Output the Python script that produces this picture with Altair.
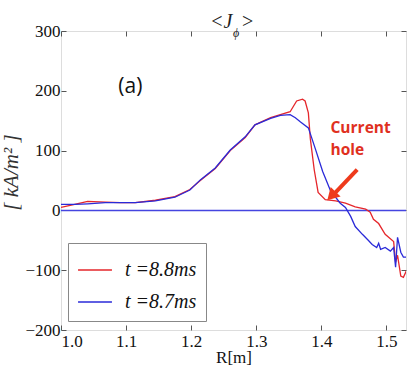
import altair as alt
import pandas as pd

# ---- data ----
r_red = [1.000, 1.021, 1.041, 1.068, 1.091, 1.114, 1.145, 1.175, 1.198, 1.214, 1.237, 1.260,
         1.283, 1.298, 1.322, 1.337, 1.352, 1.362, 1.371, 1.375, 1.380, 1.383, 1.389, 1.395,
         1.406, 1.422, 1.437, 1.452, 1.468, 1.475, 1.480, 1.488, 1.498, 1.511, 1.514, 1.517,
         1.522, 1.526, 1.531]
j_red = [5, 10, 15, 14, 13, 13, 17, 23, 35, 50, 70, 100,
         122, 143, 155, 160, 165, 183, 186, 183, 163, 120, 68, 30,
         18, 16, 12, 6, 2, -3, -15, -22, -40, -52, -87, -75,
         -110, -112, -100]

r_blue = [1.000, 1.021, 1.041, 1.068, 1.091, 1.114, 1.145, 1.175, 1.198, 1.214, 1.237, 1.260,
          1.283, 1.298, 1.322, 1.337, 1.352, 1.360, 1.368, 1.380, 1.391, 1.402, 1.414, 1.429,
          1.437, 1.445, 1.452, 1.463, 1.472, 1.478, 1.485, 1.488, 1.491, 1.498, 1.506, 1.511,
          1.514, 1.517, 1.522, 1.526, 1.531]
j_blue = [10, 10, 11, 13, 13, 13, 16, 22, 34, 51, 71, 101,
          123, 143, 154, 159, 160, 155, 148, 138, 102, 65, 33, 12,
          5, -10, -27, -40, -50, -57, -62, -55, -65, -62, -68, -62,
          -95, -45, -70, -78, -78]

series_names = ["t =8.8ms", "t =8.7ms"]
series_colors = ["#e5262b", "#2a2ad8"]

x_ticks = [1.0, 1.1, 1.2, 1.3, 1.4, 1.5]
y_ticks = [-200, -100, 0, 100, 200, 300]

df = pd.concat([
    pd.DataFrame({"R": r_red, "J": j_red, "s": series_names[0], "o": range(len(r_red))}),
    pd.DataFrame({"R": r_blue, "J": j_blue, "s": series_names[1], "o": range(len(r_blue))}),
])

xs = alt.Scale(domain=[1.0, 1.53], nice=False, zero=False)
ys = alt.Scale(domain=[-200, 300], nice=False)

LAB_FONT = "Liberation Sans Narrow"

lines = alt.Chart(df).mark_line(strokeWidth=1.3, clip=True).encode(
    x=alt.X("R:Q", scale=xs, title="R[m]",
            axis=alt.Axis(values=x_ticks, format=".1f", ticks=False, domain=False, grid=False,
                          labelFont=LAB_FONT, labelFontSize=17, labelColor="#111",
                          labelPadding=3, titleFont=LAB_FONT, titleFontSize=17,
                          titleFontWeight="normal", titleColor="#111", titlePadding=0)),
    y=alt.Y("J:Q", scale=ys, title="[ kA/m² ]",
            axis=alt.Axis(values=y_ticks, ticks=False, domain=False, grid=False,
                          labelFont=LAB_FONT, labelFontSize=17, labelColor="#111",
                          labelPadding=1, titleFont="Liberation Serif", titleFontSize=21,
                          titleFontStyle="italic", titleFontWeight="normal",
                          titleColor="#333", titlePadding=3, titleY=141)),
    color=alt.Color("s:N", scale=alt.Scale(domain=series_names, range=series_colors),
                    legend=alt.Legend(title=None, orient="none", legendX=7, legendY=212,
                                      symbolType="stroke", symbolSize=1150, symbolStrokeWidth=1.5,
                                      labelFont="Liberation Serif", labelFontSize=20,
                                      labelFontStyle="italic", labelColor="#111",
                                      labelOffset=12, rowPadding=4, padding=9,
                                      strokeColor="#888", fillColor="white",
                                      symbolOffset=0)),
    order="o:Q",
)

zero = alt.Chart(pd.DataFrame({"J": [0]})).mark_rule(color="#4545e0", strokeWidth=1.5).encode(
    y=alt.Y("J:Q", scale=ys,
            axis=alt.Axis(orient="right", values=y_ticks, labels=False, domain=False, grid=False,
                          tickSize=5, offset=-5, title=None, tickColor="#555")),
)

# inward ticks
tick_layer_bottom = alt.Chart(pd.DataFrame({"R": [1.0], "J": [0]})).mark_point(opacity=0).encode(
    x=alt.X("R:Q", scale=xs, axis=alt.Axis(orient="bottom", values=x_ticks, labels=False,
                                            domain=False, grid=False, tickSize=5, offset=-5,
                                            title=None, tickColor="#555")),
    y=alt.Y("J:Q", scale=ys, axis=alt.Axis(orient="left", values=y_ticks, labels=False,
                                            domain=False, grid=False, tickSize=5, offset=-5,
                                            title=None, tickColor="#555")),
)
tick_layer_top = alt.Chart(pd.DataFrame({"R": [1.0]})).mark_point(opacity=0).encode(
    x=alt.X("R:Q", scale=xs, axis=alt.Axis(orient="top", values=x_ticks, labels=False,
                                            domain=False, grid=False, tickSize=5, offset=-5,
                                            title=None, tickColor="#555")),
)

# annotations
label_a = alt.Chart(pd.DataFrame({"R": [1.088], "J": [207], "t": ["(a)"]})).mark_text(
    align="left", baseline="middle", font="Open Sans", fontSize=21, color="#111"
).encode(x=alt.X("R:Q", scale=xs, axis=None), y=alt.Y("J:Q", scale=ys, axis=None), text="t:N")

hole_txt = alt.Chart(pd.DataFrame({"R": [1.414, 1.414], "J": [137, 101],
                                   "t": ["Current", "hole"]})).mark_text(
    align="left", baseline="middle", font="Open Sans", fontSize=15.5, fontWeight="bold",
    color="#e0301e"
).encode(x=alt.X("R:Q", scale=xs, axis=None), y=alt.Y("J:Q", scale=ys, axis=None), text="t:N")

arrow_line = alt.Chart(pd.DataFrame({"R": [1.455, 1.420], "J": [68, 28]})).mark_line(
    color="#ee3a1c", strokeWidth=4
).encode(x=alt.X("R:Q", scale=xs, axis=None), y=alt.Y("J:Q", scale=ys, axis=None))

arrow_head = alt.Chart(pd.DataFrame({"R": [1.4155], "J": [24]})).mark_point(
    shape="triangle-up", angle=224, size=190, filled=True, color="#ee3a1c", opacity=1
).encode(x=alt.X("R:Q", scale=xs, axis=None), y=alt.Y("J:Q", scale=ys, axis=None))

# title <J_phi>
t1 = alt.Chart(pd.DataFrame({"t": ["<J"]})).mark_text(
    align="left", baseline="middle", font="Liberation Serif", fontSize=20, fontStyle="italic",
    color="#222").encode(x=alt.value(149), y=alt.value(-9), text="t:N")
t2 = alt.Chart(pd.DataFrame({"t": ["ϕ"]})).mark_text(
    align="left", baseline="middle", font="Liberation Serif", fontSize=12, fontStyle="italic",
    color="#222").encode(x=alt.value(172), y=alt.value(2), text="t:N")
t3 = alt.Chart(pd.DataFrame({"t": [">"]})).mark_text(
    align="left", baseline="middle", font="Liberation Serif", fontSize=20,
    color="#222").encode(x=alt.value(181), y=alt.value(-9), text="t:N")

chart = alt.layer(
    zero, lines, tick_layer_bottom, tick_layer_top, label_a, hole_txt, arrow_line, arrow_head,
    t1, t2, t3
).resolve_axis(x="independent", y="independent").properties(
    width=345, height=299,
    autosize=alt.AutoSizeParams(type="none"),
    padding={"left": 61, "top": 31, "right": 1, "bottom": 38},
).configure_view(stroke="#444", strokeWidth=1).configure(background="white")

chart.save("out.html", embed_options={"renderer": "svg", "actions": False})
